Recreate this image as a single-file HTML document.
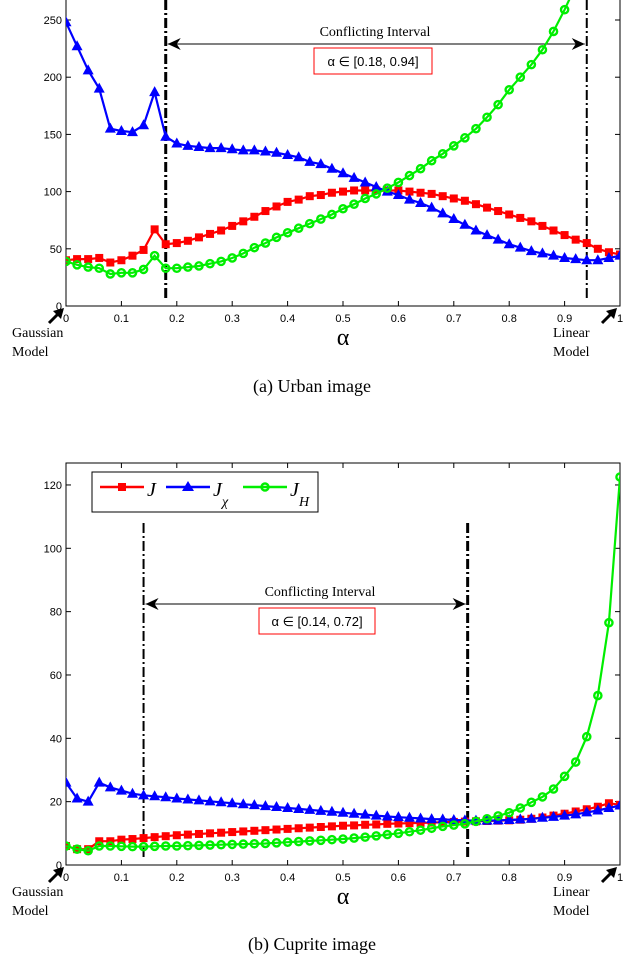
<!DOCTYPE html>
<html><head><meta charset="utf-8">
<style>
body{margin:0;background:#fff;}
svg{display:block;font-family:"Liberation Sans",sans-serif;}
.serif{font-family:"Liberation Serif",serif;}
</style></head>
<body>
<svg id="fig" width="624" height="960" viewBox="0 0 624 960" xmlns="http://www.w3.org/2000/svg">
<defs>
<clipPath id="clipA"><rect x="66" y="0" width="554" height="307"/></clipPath>
<clipPath id="clipB"><rect x="66" y="463" width="554" height="403"/></clipPath>
</defs>
</svg>
<script>
const alphaVals = Array.from({length:51},(_,i)=>+(i*0.02).toFixed(2));
const urbanJ = [40,41,41,42,38,40,44,49,67,54,55,57,60,63,66,70,74,78,83,87,91,93,96,97,99,100,101,101,101,101,101,100,99,98,96,94,92,89,86,83,80,77,74,70,66,62,58,55,50,47,45];
const urbanJX = [248,227,206,190,155,153,152,158,187,148,142,140,139,138,138,137,136,136,135,134,132,130,126,124,120,116,112,108,104,100,97,93,90,86,81,76,71,66,62,58,54,51,48,46,44,42,41,40,40,42,44];
const urbanJH = [39,36,34,33,28,29,29,32,44,33,33,34,35,37,39,42,46,51,55,60,64,68,72,76,80,85,89,94,98,103,108,114,120,127,133,140,147,155,165,176,189,200,211,224,240,259,280,302,326,352,380];
const cupJ = [6,5,5,7.5,7.5,8,8.2,8.5,8.8,9.1,9.4,9.6,9.8,10,10.2,10.4,10.6,10.8,11,11.2,11.4,11.6,11.8,12,12.2,12.4,12.5,12.7,12.8,13,13.1,13.2,13.3,13.4,13.5,13.6,13.7,13.8,13.9,14,14.1,14.3,14.6,15,15.6,16.2,16.9,17.6,18.4,19.5,19];
const cupJX = [26,21,20,26,24.5,23.5,22.5,22,21.7,21.4,21,20.7,20.4,20.1,19.8,19.5,19.2,18.9,18.6,18.3,18,17.7,17.4,17.1,16.8,16.5,16.2,15.9,15.6,15.3,15.1,14.9,14.7,14.5,14.4,14.2,14.1,14,14,14.1,14.2,14.4,14.6,14.9,15.2,15.6,16,16.6,17.2,18,18.8];
const cupJH = [6,5,4.5,6,6,5.9,5.8,5.8,5.9,6,6,6.1,6.2,6.3,6.4,6.5,6.6,6.7,6.8,7,7.2,7.4,7.6,7.8,8,8.2,8.5,8.8,9.2,9.6,10,10.5,11,11.6,12.2,12.6,13,13.8,14.6,15.5,16.5,18,19.8,21.5,24,28,32.5,40.5,53.5,76.5,122.5];
const xTicks = [0,0.1,0.2,0.3,0.4,0.5,0.6,0.7,0.8,0.9,1];
const xTickLabels = ["0","0.1","0.2","0.3","0.4","0.5","0.6","0.7","0.8","0.9","1"];
const urbanYTicks = [0,50,100,150,200,250];
const cupYTicks = [0,20,40,60,80,100,120];
const urbanInterval = [0.18,0.94];
const cupInterval = [0.14,0.725];

const NS="http://www.w3.org/2000/svg";
const svg=document.getElementById('fig');
function mk(tag,attrs,parent){const e=document.createElementNS(NS,tag);for(const k in attrs)e.setAttribute(k,attrs[k]);(parent||svg).appendChild(e);return e;}

function chart(cfg){
  const g=mk('g',{});
  
  
  const L=66,R=620,B=cfg.bottom,T=cfg.top;
  const xs=v=>L+v*(R-L);
  const ys=v=>B-(v-0)*cfg.ppu;
  const box=mk('rect',{x:L,y:T,width:R-L,height:B-T,fill:'none',stroke:'#000','stroke-width':1},g);
  
  
  xTicks.forEach((t,i)=>{
    const x=xs(t);
    mk('line',{x1:x,y1:B,x2:x,y2:B-5,stroke:'#000'},g);
    mk('line',{x1:x,y1:T,x2:x,y2:T+5,stroke:'#000'},g);
    const tx=mk('text',{x:x,y:B+16,'font-size':11,'text-anchor':'middle'},g);
    tx.textContent=xTickLabels[i];
    
    
  });
  cfg.yTicks.forEach(t=>{
    const y=ys(t);
    mk('line',{x1:L,y1:y,x2:L+5,y2:y,stroke:'#000'},g);
    mk('line',{x1:R,y1:y,x2:R-5,y2:y,stroke:'#000'},g);
    const tx=mk('text',{x:L-4,y:y+4,'font-size':11,'text-anchor':'end'},g);
    tx.textContent=String(t);
    
    
  });
  cfg.interval.forEach((a,i)=>{
    const l=mk('line',{x1:xs(a),y1:cfg.dashTop,x2:xs(a),y2:B-6,stroke:'#000','stroke-width':i===cfg.heavy?3:2,'stroke-dasharray':'10,3,2,3'},g);
    
    
  });
  const ay=cfg.arrowY, x1=xs(cfg.interval[0])+2, x2=xs(cfg.interval[1])-2;
  const ar=mk('line',{x1:x1,y1:ay,x2:x2,y2:ay,stroke:'#000','stroke-width':1},g);
  
  
  mk('path',{d:`M${x1} ${ay} L${x1+13} ${ay-6} L${x1+9} ${ay} L${x1+13} ${ay+6}Z`,fill:'#000'},g);
  mk('path',{d:`M${x2} ${ay} L${x2-13} ${ay-6} L${x2-9} ${ay} L${x2-13} ${ay+6}Z`,fill:'#000'},g);
  const ct=mk('text',{x:cfg.textX,y:ay-8,'font-size':14,'text-anchor':'middle',class:'serif'},g);
  ct.textContent='Conflicting Interval';
  
  
  const rb=mk('rect',{x:cfg.boxX,y:ay+4,width:cfg.boxW,height:26,fill:'#fff',stroke:'#f00','stroke-width':1},g);
  
  
  const rt=mk('text',{x:cfg.boxX+cfg.boxW/2,y:ay+22,'font-size':13,'text-anchor':'middle'},g);
  rt.textContent=cfg.intervalText;
  
  
  const cg=mk('g',{'clip-path':`url(#${cfg.clip})`},g);
  const series=[[cfg.jh,'#00ee00','circle','series-j-h'],[cfg.j,'#ff0000','square','series-j'],[cfg.jx,'#0000ff','tri','series-j-x']];
  const order=[series[1],series[2],series[0]];
  order.forEach(([data,col,shape,nm])=>{
    const sg=mk('g',{},cg);
    
    
    const pts=data.map((v,i)=>`${xs(alphaVals[i]).toFixed(1)},${ys(v).toFixed(1)}`).join(' ');
    mk('polyline',{points:pts,fill:'none',stroke:col,'stroke-width':2.2},sg);
    data.forEach((v,i)=>{
      const x=xs(alphaVals[i]),y=ys(v);
      let m;
      if(shape==='square') m=mk('rect',{x:x-4,y:y-4,width:8,height:8,fill:col},sg);
      else if(shape==='tri') m=mk('path',{d:`M${x} ${y-6} L${x+5.5} ${y+4} L${x-5.5} ${y+4}Z`,fill:col},sg);
      else m=mk('circle',{cx:x,cy:y,r:3.6,fill:'none',stroke:col,'stroke-width':2.4},sg);
      
      
    });
  });
  const xl=mk('text',{x:343,y:B+39,'font-size':24,'text-anchor':'middle',class:'serif'},g);
  xl.textContent='α';
  
  
  [['Gaussian',12,'gaussian-model-label'],['Linear',553,'linear-model-label']].forEach(([w,x,nm])=>{
    const t=mk('text',{x:x,y:B+31,'font-size':14,class:'serif'},g);
    
    
    const a=mk('tspan',{x:x,dy:0},t); a.textContent=w;
    const b=mk('tspan',{x:x,dy:19},t); b.textContent='Model';
  });
  [[L-2,B+2],[R-3,B+2]].forEach(([x,y])=>{
    const a=mk('g',{},g);
    
    
    mk('line',{x1:x-15,y1:y+15,x2:x-6,y2:y+6,stroke:'#000','stroke-width':3},a);
    mk('path',{d:`M${x} ${y} L${x-3} ${y+11} L${x-11} ${y+3}Z`,fill:'#000'},a);
  });
  const cap=mk('text',{x:312,y:cfg.capY,'font-size':18,'text-anchor':'middle',class:'serif'},g);
  cap.textContent=cfg.caption;
  
  
  return {g,xs,ys};
}

chart({name:'urban-chart',top:-20,bottom:306,ppu:1.144,yTicks:urbanYTicks,interval:urbanInterval,heavy:0,dashTop:0,
  arrowY:44,textX:375,boxX:314,boxW:118,intervalText:'α ∈ [0.18, 0.94]',j:urbanJ,jx:urbanJX,jh:urbanJH,clip:'clipA',capY:392,caption:'(a)  Urban image'});
chart({name:'cuprite-chart',top:463,bottom:865,ppu:3.167,yTicks:cupYTicks,interval:cupInterval,heavy:1,dashTop:523,
  arrowY:604,textX:320,boxX:259,boxW:116,intervalText:'α ∈ [0.14, 0.72]',j:cupJ,jx:cupJX,jh:cupJH,clip:'clipB',capY:950,caption:'(b)  Cuprite image'});

const lg=mk('g',{});


mk('rect',{x:92,y:472,width:226,height:40,fill:'#fff',stroke:'#000','stroke-width':1},lg);
[['#ff0000','square',100,'J',''],['#0000ff','tri',166,'J','χ'],['#00ee00','circle',243,'J','H']].forEach(([col,sh,x,lab,sub])=>{
  const e=mk('g',{},lg);
  
  
  mk('line',{x1:x,y1:487,x2:x+44,y2:487,stroke:col,'stroke-width':2.5},e);
  const cx=x+22;
  if(sh==='square') mk('rect',{x:cx-4,y:483,width:8,height:8,fill:col},e);
  else if(sh==='tri') mk('path',{d:`M${cx} ${481} L${cx+6} ${491} L${cx-6} ${491}Z`,fill:col},e);
  else mk('circle',{cx:cx,cy:487,r:3.5,fill:'none',stroke:col,'stroke-width':2.4},e);
  const t=mk('text',{x:x+47,y:496,'font-size':20,'font-style':'italic',class:'serif'},e);
  t.textContent=lab;
  if(sub){const s=mk('text',{x:x+56,y:506,'font-size':14,'font-style':'italic',class:'serif'},e);s.textContent=sub;}
});
</script>
</body></html>
